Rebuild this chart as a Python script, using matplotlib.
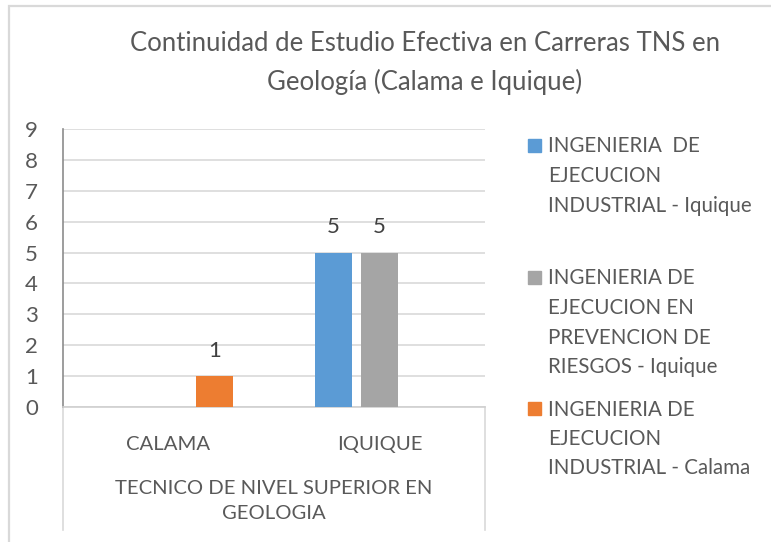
import numpy as np
import matplotlib.pyplot as plt
from matplotlib.patches import Rectangle

# ----------------------------
# Data
# ----------------------------
categories = ["CALAMA", "IQUIQUE"]
group_label = "TECNICO DE NIVEL SUPERIOR EN\nGEOLOGIA"
series_names = [
    "INGENIERIA  DE\nEJECUCION\nINDUSTRIAL - Iquique",
    "INGENIERIA DE\nEJECUCION EN\nPREVENCION DE\nRIESGOS - Iquique",
    "INGENIERIA DE\nEJECUCION\nINDUSTRIAL - Calama",
]
iquique_industrial = [0, 5]
iquique_prevencion = [0, 5]
calama_industrial = [1, 0]
series_values = [iquique_industrial, iquique_prevencion, calama_industrial]
colors = ["#5B9BD5", "#A5A5A5", "#ED7D31"]
title = "Continuidad de Estudio Efectiva en Carreras TNS en\nGeología (Calama e Iquique)"

plt.rcParams["font.family"] = ["Lato", "DejaVu Sans"]
text_color = "#595959"

W, H = 771, 542
fig = plt.figure(figsize=(W / 100, H / 100), dpi=100)

def fx(px):
    return px / W

def fy(py):
    return 1 - py / H

# chart border (cropped at right/bottom)
fig.patches.append(Rectangle((fx(9), -0.1), 1.2, fy(6) + 0.1, transform=fig.transFigure,
                             fill=False, edgecolor="#D9D9D9", lw=1.6))

ax = fig.add_axes([fx(63), fy(407), fx(485) - fx(63), fy(129) - fy(407)])

x = np.arange(len(categories))
offsets = [-0.219, 0.0, 0.219]
width = 0.174
for vals, off, c in zip(series_values, offsets, colors):
    bars = ax.bar(x + off, vals, width=width, color=c, zorder=3)
    for b, v in zip(bars, vals):
        if v:
            ax.annotate(str(v), (b.get_x() + b.get_width() / 2, v), xytext=(0, 11),
                        textcoords="offset points", ha="center", va="bottom",
                        fontsize=16, color="#404040")

ax.set_xlim(-0.5, 1.5)
ax.set_ylim(0, 9)
ax.set_yticks(range(10))
ax.grid(axis="y", color="#D9D9D9", lw=1.2, zorder=0)
ax.tick_params(axis="y", length=0, pad=18, labelsize=16, labelcolor=text_color)
ax.set_xticks(x)
ax.set_xticklabels(categories)
ax.tick_params(axis="x", length=0, pad=21, labelsize=14.6, labelcolor=text_color)
for s in ["top", "right"]:
    ax.spines[s].set_visible(False)
ax.spines["left"].set_color("#8C8C8C")
ax.spines["bottom"].set_color("#D0D0D0")
ax.spines["left"].set_linewidth(1.2)
ax.spines["bottom"].set_linewidth(1.2)

# multi-level category axis: outer group label and dividers
ax_h = 407 - 129
low = -(530 - 407) / ax_h
for xa in [0, 1]:
    ax.plot([xa, xa], [0, low], transform=ax.transAxes, color="#D9D9D9", lw=1.2,
            clip_on=False)
ax.text(0.5, -(501 - 407) / ax_h, group_label, transform=ax.transAxes, ha="center",
        va="center", fontsize=14.6, color=text_color, linespacing=1.55)

fig.text(fx(425), fy(63), title, ha="center", va="center", fontsize=18.5,
         color=text_color, linespacing=1.6)

# legend, entries placed like the Excel legend
first_line_y = [145, 277, 408]
line_step = 29.5
for name, c, y0 in zip(series_names, colors, first_line_y):
    fig.patches.append(Rectangle((fx(528), fy(y0 + 6.5)), fx(13), 13 / H,
                                 transform=fig.transFigure, color=c))
    for i, line in enumerate(name.split("\n")):
        fig.text(fx(548), fy(y0 + i * line_step + 7.5), line, ha="left", va="baseline",
                 fontsize=14.8, color=text_color)

fig.savefig("out.png", dpi=100)
